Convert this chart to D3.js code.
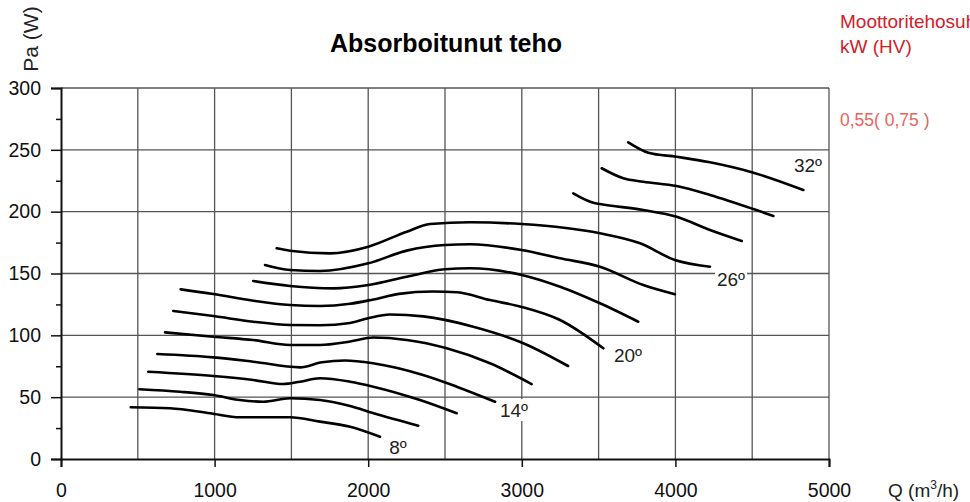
<!DOCTYPE html>
<html>
<head>
<meta charset="utf-8">
<script src="https://cdn.jsdelivr.net/npm/d3@7"></script>
<style>
  body { margin: 0; background: #fff; }
  text { font-family: "Liberation Sans", Arial, sans-serif; }
</style>
</head>
<body>
<div id="chart"></div>
<script>
// Lämpötilakäyrät: [Q m3/h, Pa]
const curve8  = [[454,41.8],[710,41],[970,37],[1165,33.7],[1491,33.7],[1686,30.2],[1882,26.1],[2077,18]];
const curve10 = [[510,56.4],[775,54.4],[992,51.7],[1165,47.7],[1317,46.3],[1491,49.1],[1686,47.7],[1882,42.9],[2031,37.2],[2326,26.9]];
const curve12 = [[568,70.6],[992,67.1],[1252,63.9],[1447,60.6],[1556,62.5],[1686,65.3],[1882,62.5],[2033,58.5],[2337,47.7],[2576,37]];
const curve14 = [[627,84.9],[992,82.2],[1252,78.7],[1556,74.1],[1700,78.3],[1849,79.6],[2031,77.4],[2357,67.9],[2576,58.5],[2826,46.3]];
const curve16 = [[677,102.4],[992,98.9],[1252,96.2],[1491,92.2],[1686,92.2],[1882,95],[2033,98.2],[2251,96.2],[2511,89.5],[2793,77.4],[3064,60.6]];
const curve18 = [[731,119.7],[992,115.6],[1252,111],[1491,108.4],[1686,108.2],[1882,110],[2000,113.8],[2142,116.8],[2359,115.3],[2684,107],[3010,93.6],[3301,75.2]];
const curve20 = [[779,137.2],[992,133.4],[1252,128],[1491,124.5],[1686,123.7],[1882,125.5],[2033,129],[2200,133.5],[2420,135.5],[2580,134.8],[2793,128.5],[2999,123],[3249,112.4],[3531,89.5]];
const curve22 = [[1252,143.9],[1491,139.9],[1773,138],[2001,140.7],[2251,147.4],[2500,153.4],[2663,154.2],[2999,148.8],[3249,139.3],[3509,125.9],[3758,111]];
const curve24 = [[1328,156.9],[1491,152.8],[1686,152],[2001,158.2],[2251,168.5],[2500,173],[2663,173.6],[2999,169],[3249,162.3],[3509,155.5],[3791,140.7],[3997,133.2]];
const curve26 = [[1404,170.4],[1491,168.4],[1751,166.3],[2001,171.7],[2251,183.8],[2402,190],[2663,191.4],[2999,190],[3509,182.5],[3770,174.4],[3997,160.9],[4225,155.5]];
const curve28 = [[3335,214.8],[3466,207.2],[3509,206.2],[3791,201.3],[4008,195.9],[4225,185.2],[4432,176.3]];
const curve30 = [[3520,235.1],[3661,227],[3791,224.2],[4008,220.7],[4225,213.5],[4508,202.1],[4638,196.5]];
const curve32 = [[3693,256.1],[3824,247.7],[4008,244.4],[4225,239.9],[4508,231.5],[4833,217.5]];

const curves = [curve8, curve10, curve12, curve14, curve16, curve18, curve20,
                curve22, curve24, curve26, curve28, curve30, curve32];

// Käyrien tunnukset
const labelTexts = ["8º", "14º", "20º", "26º", "32º"];
const labelQ     = [2194, 2949, 3691, 4362, 4863];
const labelPa    = [9.7, 39.6, 84, 145.5, 237.6];

const xTicks = [0, 1000, 2000, 3000, 4000, 5000];
const yTicks = [0, 50, 100, 150, 200, 250, 300];

const margin = { top: 88, right: 141, bottom: 43, left: 61 },
      width = 970 - margin.left - margin.right,
      height = 502 - margin.top - margin.bottom;

const root = d3.select("#chart")
  .append("svg")
  .attr("width", 970)
  .attr("height", 502);

const svg = root.append("g")
  .attr("transform", `translate(${margin.left},${margin.top})`);

const xScale = d3.scaleLinear().domain([0, 5000]).range([0, width]);
const yScale = d3.scaleLinear().domain([0, 300]).range([height, 0]);

// Ruudukko
svg.append("g")
  .selectAll("line")
  .data(d3.range(500, 5001, 500))
  .join("line")
  .attr("x1", d => xScale(d)).attr("x2", d => xScale(d))
  .attr("y1", 0).attr("y2", height)
  .attr("stroke", "#555").attr("stroke-width", 1.3);

svg.append("g")
  .selectAll("line")
  .data(d3.range(50, 301, 50))
  .join("line")
  .attr("x1", 0).attr("x2", width)
  .attr("y1", d => yScale(d)).attr("y2", d => yScale(d))
  .attr("stroke", "#555").attr("stroke-width", 1.3);

// Akselit
const xAxis = d3.axisBottom(xScale).tickValues(xTicks).tickSize(8).tickPadding(16).tickFormat(d3.format("d"));
const yAxis = d3.axisLeft(yScale).tickValues(yTicks).tickSize(10).tickPadding(10);
const yMinor = d3.axisLeft(yScale).tickValues(d3.range(25, 300, 50)).tickSize(5).tickFormat("");

const gx = svg.append("g").attr("transform", `translate(0,${height})`).call(xAxis);
const gy = svg.append("g").call(yAxis);
const gm = svg.append("g").call(yMinor);

[gx, gy, gm].forEach(g => {
  g.select(".domain").attr("stroke", "#111").attr("stroke-width", 2);
  g.selectAll(".tick line").attr("stroke", "#111").attr("stroke-width", 1.5);
  g.selectAll(".tick text").attr("fill", "#111").style("font-size", "19.5px")
    .style("font-family", "'Liberation Sans', Arial, sans-serif");
});
gm.select(".domain").remove();

// Käyrät
const lineGen = d3.line()
  .x(d => xScale(d[0]))
  .y(d => yScale(d[1]))
  .curve(d3.curveMonotoneX);

svg.append("g")
  .selectAll("path")
  .data(curves)
  .join("path")
  .attr("d", lineGen)
  .attr("fill", "none")
  .attr("stroke", "#000")
  .attr("stroke-width", 2.6)
  .attr("stroke-linecap", "round");

// Tunnukset valkoisella taustalla
const labels = svg.append("g")
  .selectAll("g")
  .data(labelTexts)
  .join("g")
  .attr("transform", (d, i) => `translate(${xScale(labelQ[i])},${yScale(labelPa[i])})`);

labels.append("rect")
  .attr("x", -16).attr("y", -11).attr("width", 32).attr("height", 22)
  .attr("fill", "#fff");

labels.append("text")
  .attr("text-anchor", "middle")
  .attr("dy", "0.36em")
  .style("font-size", "19px")
  .attr("fill", "#222")
  .text(d => d);

// Otsikot
root.append("text")
  .attr("x", 446).attr("y", 52)
  .attr("text-anchor", "middle")
  .style("font-size", "25px")
  .style("font-weight", "bold")
  .text("Absorboitunut teho");

root.append("text")
  .attr("transform", "translate(38,39) rotate(-90)")
  .attr("text-anchor", "middle")
  .style("font-size", "21px")
  .attr("fill", "#222")
  .text("Pa (W)");

root.append("text")
  .attr("x", 888).attr("y", 497)
  .style("font-size", "19px")
  .attr("fill", "#222")
  .html('Q (m<tspan dy="-8" style="font-size:12px">3</tspan><tspan dy="8">/h)</tspan>');

root.append("text")
  .attr("x", 840).attr("y", 28)
  .style("font-size", "19px")
  .attr("fill", "#d42027")
  .text("Moottoritehosuhde");

root.append("text")
  .attr("x", 840).attr("y", 53)
  .style("font-size", "19px")
  .attr("fill", "#d42027")
  .text("kW (HV)");

root.append("text")
  .attr("x", 840).attr("y", 126)
  .style("font-size", "17.5px")
  .attr("fill", "#e8645c")
  .text("0,55( 0,75 )");
</script>
</body>
</html>
